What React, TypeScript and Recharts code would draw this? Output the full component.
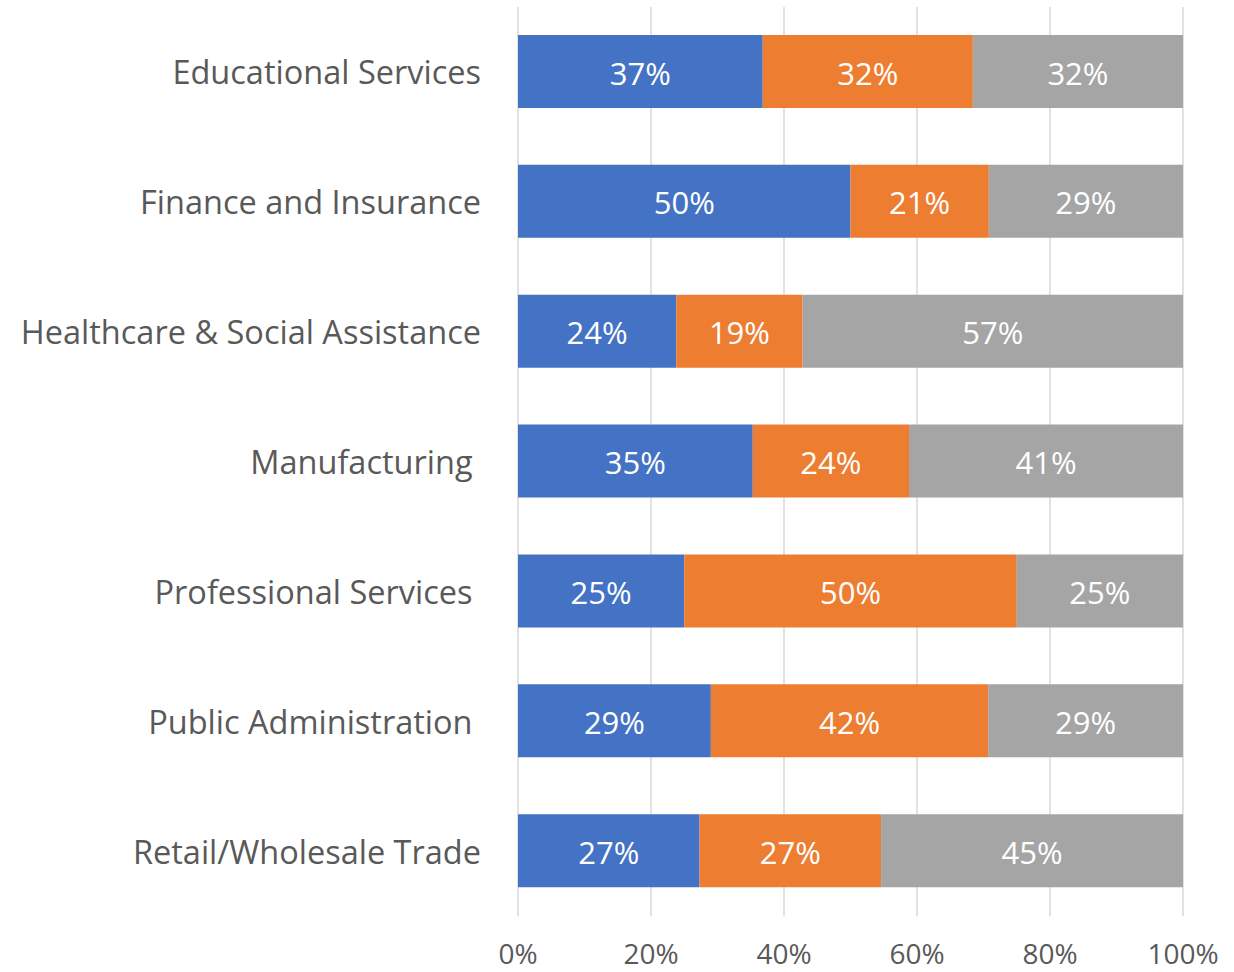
import React from "react";
import { BarChart, Bar, XAxis, YAxis, CartesianGrid, LabelList } from "recharts";

const categories = [
  "Educational Services",
  "Finance and Insurance",
  "Healthcare & Social Assistance",
  "Manufacturing\u00a0",
  "Professional Services\u00a0",
  "Public Administration\u00a0",
  "Retail/Wholesale Trade",
];

// shares in percent
const seriesA = [36.8, 50.0, 23.8, 35.3, 25.0, 29.0, 27.3];
const seriesB = [31.6, 20.8, 19.0, 23.5, 50.0, 41.7, 27.3];
const seriesC = [31.6, 29.2, 57.2, 41.2, 25.0, 29.3, 45.4];

const xTicks = [0, 20, 40, 60, 80, 100];

const data = categories.map((name, i) => ({
  name,
  a: seriesA[i],
  b: seriesB[i],
  c: seriesC[i],
}));

const font = "'Open Sans', sans-serif";
const pct = (v: any) => `${Math.round(Number(v))}%`;

export default function App() {
  return (
    <div style={{ position: "absolute", left: 0, top: 0, width: 1234, height: 972, background: "#fff" }}>
      <BarChart
        width={1234}
        height={972}
        data={data}
        layout="vertical"
        margin={{ top: 7, right: 51, bottom: 0, left: 0 }}
        barSize={73}
        style={{ fontFamily: font }}
      >
        <CartesianGrid horizontal={false} stroke="#D9D9D9" strokeWidth={1.5} />
        <XAxis
          type="number"
          domain={[0, 100]}
          ticks={xTicks}
          tickFormatter={(v) => `${v}%`}
          axisLine={false}
          tickLine={false}
          tickSize={0}
          tickMargin={28}
          tick={{ fill: "#595959", fontSize: 28, fontFamily: font }}
          height={56}
        />
        <YAxis
          type="category"
          dataKey="name"
          width={518}
          axisLine={false}
          tickLine={false}
          tickSize={0}
          tickMargin={37}
          tick={{ fill: "#595959", fontSize: 32.5, fontFamily: font, dy: 1 }}
        />
        <Bar dataKey="a" stackId="s" fill="#4472C4" isAnimationActive={false}>
          <LabelList dataKey="a" position="center" formatter={pct} fill="#fff" fontSize={31} fontFamily={font} dy={2} />
        </Bar>
        <Bar dataKey="b" stackId="s" fill="#ED7D31" isAnimationActive={false}>
          <LabelList dataKey="b" position="center" formatter={pct} fill="#fff" fontSize={31} fontFamily={font} dy={2} />
        </Bar>
        <Bar dataKey="c" stackId="s" fill="#A5A5A5" isAnimationActive={false}>
          <LabelList dataKey="c" position="center" formatter={pct} fill="#fff" fontSize={31} fontFamily={font} dy={2} />
        </Bar>
      </BarChart>
    </div>
  );
}
